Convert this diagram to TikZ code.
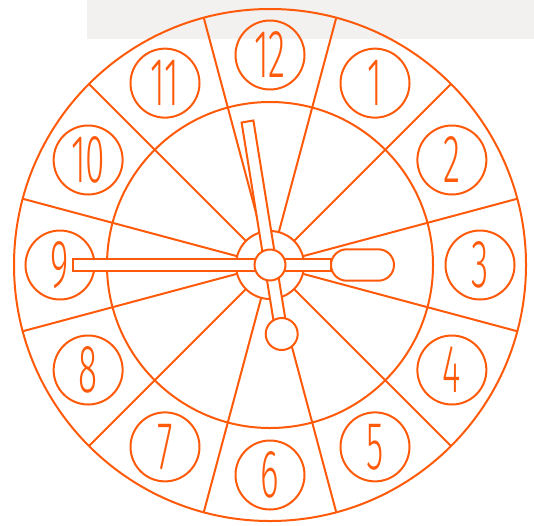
\documentclass[tikz,border=0pt]{standalone}
\usepackage{graphicx}
\usepackage{fontspec}
\usetikzlibrary{calc}
\newfontfamily\numfont{Fira Sans Light}
\definecolor{clk}{RGB}{255,90,10}
\definecolor{bgband}{RGB}{242,241,240}
\begin{document}
\begin{tikzpicture}[x=1pt,y=-1pt,
  ring/.style={circle, draw=clk, line width=2pt, inner sep=0pt, outer sep=0pt},
  numc/.style={ring, minimum size=69pt, text=clk,
    font=\numfont\fontsize{68}{68}\selectfont},
  part/.style={draw=clk, fill=white, line width=2pt},
  spoke/.style={draw=clk, line width=2pt}]
\useasboundingbox (0,0) rectangle (534,525);
\fill[bgband] (87,0) rectangle (534,38.7);
\coordinate (C) at (270,265);
\node[ring, minimum size=512pt] (outer) at (C) {};
\node[ring, minimum size=326pt] (inner) at (C) {};
\node[ring, minimum size=68pt, fill=white] (hub) at (C) {};
\foreach \a in {15,45,...,345}
  \draw[spoke] (hub.\a) -- (outer.\a);
\foreach \h in {1,...,12}
  \node[numc] (n\h) at ($(C)+({-90+30*\h}:210)$) {\scalebox{0.52}[1]{\h}};
% hour hand (horizontal bar) and capsule
\draw[part] (73,258.8) rectangle (331,271.2);
\draw[part, rounded corners=15.7pt] (331,249.3) rectangle (394,280.7);
% minute hand
\draw[part] (241.6,122.5) -- (253.4,120.5) -- (287.6,333.0) -- (275.8,335.0) -- cycle;
\node[ring, part, minimum size=32pt] (tail) at (281.7,334) {};
\node[ring, part, minimum size=31pt] (pivot) at (C) {};
\end{tikzpicture}
\end{document}
